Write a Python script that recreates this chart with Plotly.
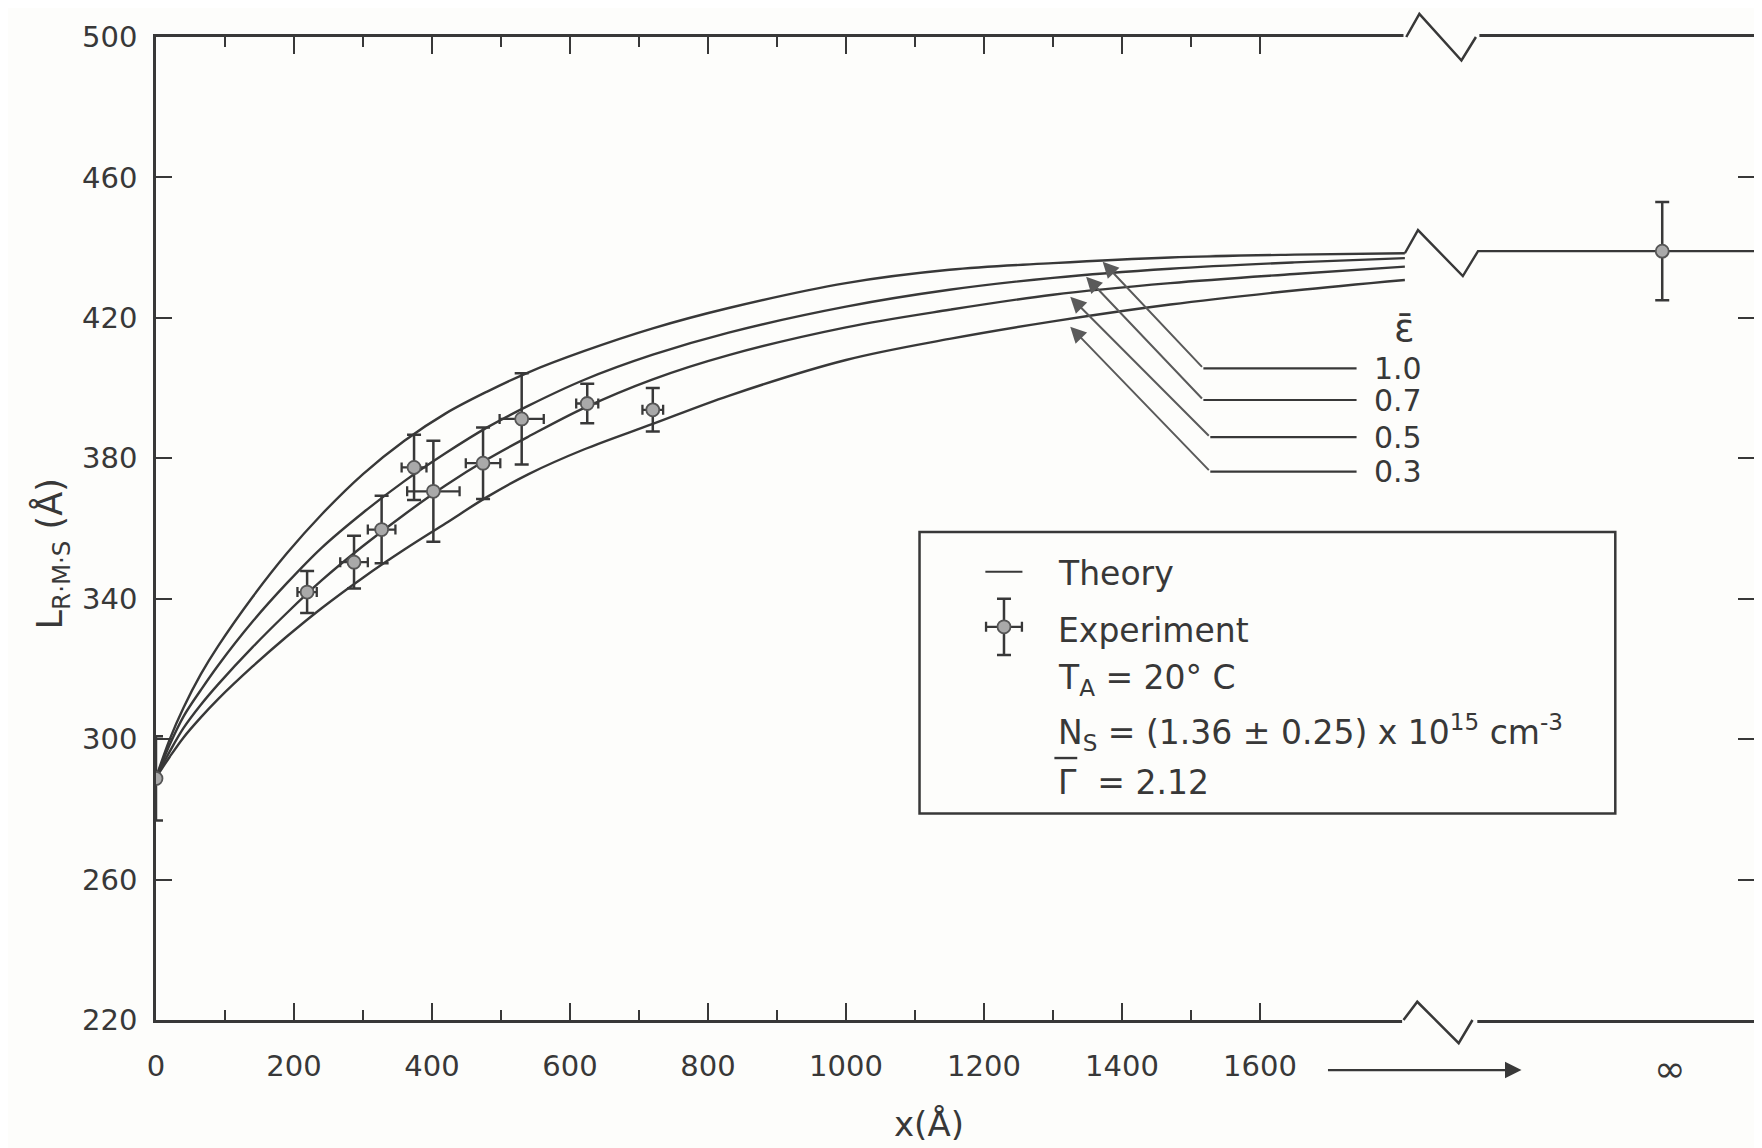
import plotly.graph_objects as go

# ---------------- data ----------------
X_THEORY = [0, 20, 40, 65, 90, 140, 190, 240, 300, 360, 420, 480, 540, 620, 720,
            830, 1000, 1150, 1300, 1470, 1650, 1810]
EPS_VALUES = ["1.0", "0.7", "0.5", "0.3"]
Y_EPS_10 = [289, 300, 309, 318.5, 326.5, 340.5, 353, 364, 375.5, 385, 392.8, 399,
            404.5, 410.5, 417, 422.8, 429.9, 433.7, 435.6, 437.2, 438, 438.4]
Y_EPS_07 = [289, 298.5, 306.5, 314, 321, 333.5, 344.5, 354.5, 364.5, 373.5, 381.5,
            388.8, 395, 402.3, 409.5, 415.8, 423.2, 428, 431.4, 434.0, 435.8, 437]
Y_EPS_05 = [289, 296.5, 303.2, 309.8, 315.6, 326.2, 336, 345.2, 355, 364, 372.3,
            379.7, 386.2, 394.3, 402.5, 409.4, 417.3, 422.3, 426.6, 429.9, 432.5, 434.6]
Y_EPS_03 = [289, 295, 300.5, 306.2, 311.4, 320.7, 329.3, 337.3, 346, 354, 361.5,
            369, 375.5, 382.5, 389.8, 397.8, 408.0, 414.0, 419.0, 423.8, 427.8, 430.8]

EXP_X = [0, 219, 287, 327, 374, 402, 474, 530, 625, 720]
EXP_Y = [288.8, 341.9, 350.4, 359.7, 377.4, 370.6, 378.6, 391.2, 395.6, 393.8]
EXP_EY = [12, 6, 7.5, 9.6, 9.3, 14.4, 10.2, 13, 5.6, 6.2]
EXP_EX = [None, 14, 20, 20, 18, 38, 25, 32, 16, 15]

X_INF = 2183          # position used for the "infinity" column
INF_Y = [439.0]
INF_EY = [14]

# broken top curve continuing to infinity
BREAK_X = [1810, 1829, 1894, 1916, 2316]
BREAK_Y = [438.4, 445.0, 431.9, 439.0, 439.0]

X_TICKS = [0, 200, 400, 600, 800, 1000, 1200, 1400, 1600]
X_MINOR = [100, 300, 500, 700, 900, 1100, 1300, 1500]
Y_TICKS = [220, 260, 300, 340, 380, 420, 460, 500]

X_RANGE = [0, 2316]
Y_RANGE = [220, 500]

# ---------------- style ----------------
INK = "#383838"
FONT = "DejaVu Sans"
LW = 2.4

def xp(v):
    return (v - X_RANGE[0]) / (X_RANGE[1] - X_RANGE[0])

def yp(v):
    return (v - Y_RANGE[0]) / (Y_RANGE[1] - Y_RANGE[0])

fig = go.Figure()

for lab, ys in zip(EPS_VALUES, [Y_EPS_10, Y_EPS_07, Y_EPS_05, Y_EPS_03]):
    fig.add_trace(go.Scatter(x=X_THEORY, y=ys, mode="lines", name="ε=" + lab,
                             line=dict(color=INK, width=LW, shape="spline", smoothing=1.0),
                             showlegend=False, hoverinfo="skip"))

fig.add_trace(go.Scatter(x=BREAK_X, y=BREAK_Y, mode="lines",
                         line=dict(color=INK, width=LW), showlegend=False,
                         hoverinfo="skip"))

marker_style = dict(size=13, color="#a9a9a9", line=dict(color="#555555", width=1.8))

fig.add_trace(go.Scatter(
    x=EXP_X, y=EXP_Y, mode="markers", marker=marker_style, showlegend=False,
    error_y=dict(type="data", array=EXP_EY, visible=True, color=INK, thickness=2.5, width=7),
    error_x=dict(type="data", array=EXP_EX, visible=True, color=INK, thickness=2.3, width=5),
))

fig.add_trace(go.Scatter(
    x=[X_INF], y=INF_Y, mode="markers", marker=marker_style, showlegend=False,
    error_y=dict(type="data", array=INF_EY, visible=True, color=INK, thickness=2.5, width=7),
))

# legend sample symbol for "Experiment" (inside the key box)
fig.add_trace(go.Scatter(
    x=[1229], y=[332], mode="markers", marker=marker_style, showlegend=False,
    error_y=dict(type="data", array=[8], visible=True, color=INK, thickness=2.5, width=7),
    error_x=dict(type="data", array=[26], visible=True, color=INK, thickness=2.3, width=5),
    hoverinfo="skip",
))

shapes = []
# gaps in the top/bottom axis lines
for (a, b, yv) in [(1806, 1915, 220), (1808, 1918, 500)]:
    shapes.append(dict(type="rect", xref="paper", yref="paper",
                       x0=xp(a), x1=xp(b), y0=yp(yv) - 0.006, y1=yp(yv) + 0.006,
                       fillcolor="#fdfdfb", line=dict(width=0), layer="above"))
# zig-zag break marks
shapes.append(dict(type="path", xref="paper", yref="paper", layer="above",
                   path="M {},{} L {},{} L {},{} L {},{}".format(
                       xp(1808), yp(220), xp(1828), yp(225.2),
                       xp(1888), yp(213.4), xp(1908), yp(220)),
                   line=dict(color=INK, width=2.5)))
shapes.append(dict(type="path", xref="paper", yref="paper", layer="above",
                   path="M {},{} L {},{} L {},{} L {},{}".format(
                       xp(1812), yp(500), xp(1831), yp(506.6),
                       xp(1892), yp(493.3), xp(1913), yp(500)),
                   line=dict(color=INK, width=2.5)))

# key box
shapes.append(dict(type="rect", xref="paper", yref="paper",
                   x0=0.4778, x1=0.9132, y0=0.2101, y1=0.4964,
                   line=dict(color=INK, width=2.5), fillcolor="rgba(0,0,0,0)"))
shapes.append(dict(type="line", xref="paper", yref="paper",
                   x0=0.519, x1=0.5422, y0=0.456, y1=0.456,
                   line=dict(color=INK, width=2.2)))
# bar over Gamma
shapes.append(dict(type="line", xref="paper", yref="paper",
                   x0=0.5622, x1=0.5765, y0=0.2665, y1=0.2665,
                   line=dict(color=INK, width=2.4)))

# epsilon leader lines (horizontal parts)
LEADERS = [  # label, tip_x, tip_y, bend_x, bend_y
    ("1.0", 1372, 436.0, 1518, 405.6),
    ("0.7", 1348, 431.7, 1518, 396.6),
    ("0.5", 1325, 426.0, 1528, 386.0),
    ("0.3", 1325, 417.5, 1528, 376.2),
]
annotations = []
for lab, tx, ty, bx, by in LEADERS:
    shapes.append(dict(type="line", xref="x", yref="y", x0=bx, x1=1740, y0=by, y1=by,
                       line=dict(color=INK, width=2.2)))
    annotations.append(dict(x=tx, y=ty, ax=bx, ay=by, xref="x", yref="y",
                            axref="x", ayref="y", text="", showarrow=True,
                            arrowhead=2, arrowsize=1.6, arrowwidth=2,
                            arrowcolor="#5a5a5a", standoff=0))
    annotations.append(dict(x=1800, y=by, xref="x", yref="y", text=lab,
                            showarrow=False, xanchor="center", yanchor="middle",
                            font=dict(family=FONT, size=30, color=INK)))

annotations.append(dict(x=1810, y=417.0, xref="x", yref="y", text="ε̄",
                        showarrow=False, font=dict(family=FONT, size=38, color=INK)))

# key texts
KEY_LINES = [
    ("Theory", 0.4547),
    ("Experiment", 0.3967),
    ("T<sub>A</sub> = 20° C", 0.3459),
    ("N<sub>S</sub> = (1.36 ± 0.25) x 10<sup>15</sup> cm<sup>-3</sup>", 0.2920),
    ("Γ  = 2.12", 0.2411),
]
for txt, yv in KEY_LINES:
    annotations.append(dict(x=0.5634, y=yv, xref="paper", yref="paper", text=txt,
                            showarrow=False, xanchor="left", yanchor="middle",
                            font=dict(family=FONT, size=33, color=INK)))

# infinity tick label and arrow beneath axis
annotations.append(dict(x=X_INF, y=-0.05, xref="x", yref="paper", text="∞",
                        showarrow=False, xanchor="center", yanchor="middle", xshift=8,
                        font=dict(family=FONT, size=38, color=INK)))
annotations.append(dict(x=1979, y=-0.0509, xref="x", yref="paper", ax=-195, ay=0,
                        text="", showarrow=True, arrowhead=2, arrowsize=1.5,
                        arrowwidth=2.2, arrowcolor=INK, standoff=0))

# axis titles
annotations.append(dict(x=0.4835, y=-0.1058, xref="paper", yref="paper", text="x(Å)",
                        showarrow=False, xanchor="center", yanchor="middle",
                        font=dict(family=FONT, size=34, color=INK)))
annotations.append(dict(x=-0.0655, y=0.474, xref="paper", yref="paper",
                        text="L<sub>R·M·S</sub> (Å)", textangle=-90,
                        showarrow=False, xanchor="center", yanchor="middle",
                        font=dict(family=FONT, size=35, color=INK)))

# the page adds an 8px body margin, so the figure is 8px smaller than the window
fig.update_layout(
    width=1754, height=1140, autosize=False,
    margin=dict(l=148, r=5, t=29, b=128),
    paper_bgcolor="#fdfdfb", plot_bgcolor="#fdfdfb",
    showlegend=False,
    shapes=shapes, annotations=annotations,
    font=dict(family=FONT, color=INK),
)
fig.update_xaxes(
    range=X_RANGE, tickvals=X_TICKS, ticktext=[str(v) for v in X_TICKS],
    ticks="inside", ticklen=17, tickwidth=2.4, tickcolor=INK,
    showline=True, linecolor=INK, linewidth=2.5, mirror="ticks",
    showgrid=False, zeroline=False, ticklabelstandoff=18,
    tickfont=dict(family=FONT, size=29, color=INK),
    minor=dict(tickvals=X_MINOR, ticks="inside", ticklen=10, tickwidth=2.2,
               tickcolor=INK, showgrid=False),
)
fig.update_yaxes(
    range=Y_RANGE, tickvals=Y_TICKS, ticktext=[str(v) for v in Y_TICKS],
    ticks="inside", ticklen=16, tickwidth=2.4, tickcolor=INK,
    showline=True, linecolor=INK, linewidth=2.5, mirror="ticks",
    showgrid=False, zeroline=False, ticklabelstandoff=10,
    tickfont=dict(family=FONT, size=29, color=INK),
)

fig.write_html("out.html")
